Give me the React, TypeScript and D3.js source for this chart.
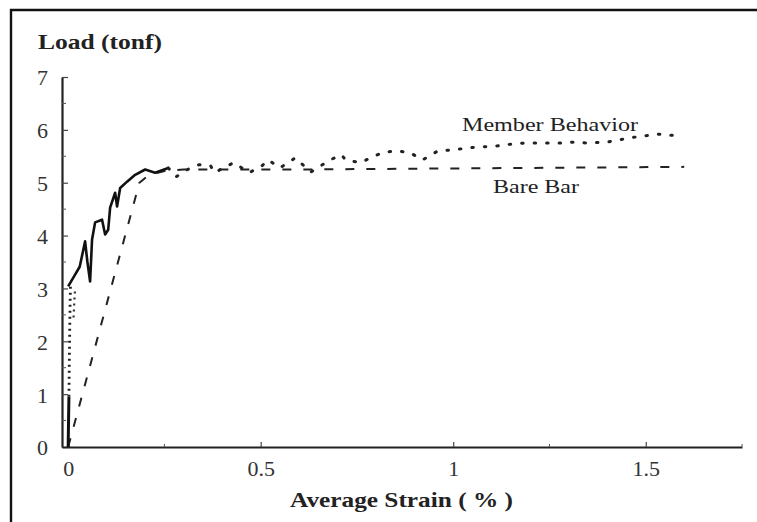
import { useEffect, useRef } from 'react';
import * as d3 from 'd3';

// Member behavior: initial near-vertical rise at zero strain
const memberBaseStrain = [0.0, 0.001, 0.002];
const memberBaseLoad = [0.0, 0.5, 0.95];
const memberDotStrain = [0.002, 0.003, 0.004, 0.005, 0.006];
const memberDotLoad = [0.95, 1.6, 2.2, 2.7, 3.04];
const memberDot2Strain = [0.014, 0.016, 0.018];
const memberDot2Load = [2.45, 2.75, 3.0];

// Member behavior: jagged hardening part (solid)
const memberRiseStrain = [0.0, 0.018, 0.03, 0.044, 0.05, 0.057, 0.062, 0.07, 0.088, 0.096, 0.104, 0.109, 0.122, 0.127, 0.135, 0.153, 0.174, 0.2, 0.226, 0.26];
const memberRiseLoad = [3.04, 3.26, 3.41, 3.89, 3.5, 3.13, 3.92, 4.25, 4.3, 4.02, 4.11, 4.53, 4.81, 4.55, 4.9, 5.02, 5.15, 5.25, 5.19, 5.28];

// Member behavior: plateau (dotted)
const memberFlatStrain = [0.26, 0.28, 0.31, 0.34, 0.37, 0.38, 0.43, 0.47, 0.5, 0.52, 0.55, 0.59, 0.63, 0.68, 0.71, 0.72, 0.76, 0.79, 0.82, 0.86, 0.89, 0.92, 0.96, 1.0, 1.04, 1.12, 1.16, 1.19, 1.23, 1.28, 1.3, 1.35, 1.4, 1.46, 1.53, 1.56, 1.59];
const memberFlatLoad = [5.28, 5.11, 5.25, 5.34, 5.32, 5.19, 5.38, 5.19, 5.3, 5.43, 5.28, 5.47, 5.2, 5.43, 5.53, 5.43, 5.38, 5.49, 5.58, 5.6, 5.56, 5.43, 5.6, 5.62, 5.66, 5.7, 5.74, 5.75, 5.75, 5.75, 5.77, 5.75, 5.77, 5.85, 5.92, 5.9, 5.9];

// Bare bar (dashed)
const bareStrain = [0.0, 0.185, 0.21, 0.25, 0.3, 0.6, 1.0, 1.6];
const bareLoad = [0.0, 5.0, 5.15, 5.22, 5.25, 5.25, 5.27, 5.3];

const yTicks = [0, 1, 2, 3, 4, 5, 6, 7];
const yMinorTicks = [0.5, 1.5, 2.5, 3.5, 4.5, 5.5, 6.5];
const xTicks = [0, 0.5, 1, 1.5];
const xTickLabels = ['0', '0.5', '1', '1.5'];
const xMinorTicks = [0.25, 1.25, 1.75];

const serif = '"Liberation Serif", "DejaVu Serif", serif';

const App = () => {
  const svgRef = useRef<SVGSVGElement>(null);

  useEffect(() => {
    const svg = d3.select(svgRef.current);
    svg.selectAll('*').remove();

    const x = d3.scaleLinear().domain([-0.016, 1.75]).range([62, 742]);
    const y = d3.scaleLinear().domain([0, 7]).range([447, 77]);

    // frame of the scanned figure (top and left edges only, the rest is cropped)
    svg.append('path')
      .attr('d', 'M11,530 L11,10 L760,10')
      .attr('fill', 'none').attr('stroke', '#111').attr('stroke-width', 2.4);

    // y axis
    const yAxis = svg.append('g')
      .attr('transform', `translate(${x(-0.016)},0)`)
      .call(d3.axisLeft(y).tickValues(yTicks).tickSize(-6).tickSizeOuter(0).tickFormat(d3.format('d')));
    yAxis.select('.domain').attr('stroke', '#222').attr('stroke-width', 2.2);
    yAxis.selectAll('.tick line').attr('stroke', '#444').attr('stroke-width', 1.2);
    yAxis.selectAll('.tick text')
      .attr('x', -14).attr('dy', '0.36em')
      .attr('font-family', serif).attr('font-size', 22).attr('fill', '#333');
    yAxis.append('g').selectAll('line')
      .data(yMinorTicks).enter().append('line')
      .attr('x1', 0).attr('x2', 4)
      .attr('y1', d => y(d)).attr('y2', d => y(d))
      .attr('stroke', '#555').attr('stroke-width', 1);

    // x axis
    const xAxis = svg.append('g')
      .attr('transform', `translate(0,${y(0)})`)
      .call(d3.axisBottom(x).tickValues(xTicks).tickSize(-5).tickSizeOuter(0)
        .tickFormat((d, i) => xTickLabels[i]));
    xAxis.select('.domain').attr('stroke', '#222').attr('stroke-width', 2.2);
    xAxis.selectAll('.tick line').attr('stroke', '#444').attr('stroke-width', 1.2);
    xAxis.selectAll('.tick text')
      .attr('y', 13).attr('dy', '0.71em')
      .attr('font-family', serif).attr('font-size', 22).attr('fill', '#333');
    xAxis.append('g').selectAll('line')
      .data(xMinorTicks).enter().append('line')
      .attr('x1', d => x(d)).attr('x2', d => x(d))
      .attr('y1', 0).attr('y2', -3)
      .attr('stroke', '#555').attr('stroke-width', 1);

    const line = (xs: number[], ys: number[]) =>
      d3.line<number>().x(d => x(xs[d])).y(d => y(ys[d]))(xs.map((_, i) => i)) || '';

    // bare bar
    svg.append('path')
      .attr('d', line(bareStrain, bareLoad))
      .attr('fill', 'none').attr('stroke', '#222').attr('stroke-width', 2)
      .attr('stroke-dasharray', '9,12');

    // member behavior
    svg.append('path')
      .attr('d', line(memberBaseStrain, memberBaseLoad))
      .attr('fill', 'none').attr('stroke', '#111').attr('stroke-width', 3);
    svg.append('path')
      .attr('d', line(memberDotStrain, memberDotLoad))
      .attr('fill', 'none').attr('stroke', '#222').attr('stroke-width', 2.8)
      .attr('stroke-dasharray', '2,4');
    svg.append('path')
      .attr('d', line(memberDot2Strain, memberDot2Load))
      .attr('fill', 'none').attr('stroke', '#333').attr('stroke-width', 2.2)
      .attr('stroke-dasharray', '2,4');
    svg.append('path')
      .attr('d', line(memberRiseStrain, memberRiseLoad))
      .attr('fill', 'none').attr('stroke', '#111').attr('stroke-width', 2.6)
      .attr('stroke-linejoin', 'round');
    svg.append('path')
      .attr('d', line(memberFlatStrain, memberFlatLoad))
      .attr('fill', 'none').attr('stroke', '#222').attr('stroke-width', 3)
      .attr('stroke-linecap', 'round')
      .attr('stroke-dasharray', '1.5,11');

    // titles
    svg.append('text')
      .attr('x', 38).attr('y', 49)
      .attr('font-family', serif).attr('font-size', 21).attr('font-weight', 'bold')
      .attr('fill', '#222').attr('textLength', 124).attr('lengthAdjust', 'spacingAndGlyphs')
      .text('Load (tonf)');
    svg.append('text')
      .attr('x', 290).attr('y', 507)
      .attr('font-family', serif).attr('font-size', 21).attr('font-weight', 'bold')
      .attr('fill', '#222').attr('textLength', 223).attr('lengthAdjust', 'spacingAndGlyphs')
      .text('Average Strain ( % )');

    // series labels
    svg.append('text')
      .attr('x', 462).attr('y', 131)
      .attr('font-family', serif).attr('font-size', 19)
      .attr('fill', '#222').attr('textLength', 176).attr('lengthAdjust', 'spacingAndGlyphs')
      .text('Member Behavior');
    svg.append('text')
      .attr('x', 493).attr('y', 193)
      .attr('font-family', serif).attr('font-size', 19)
      .attr('fill', '#222').attr('textLength', 86).attr('lengthAdjust', 'spacingAndGlyphs')
      .text('Bare Bar');
  }, []);

  return (
    <svg ref={svgRef} width={757} height={522}
      style={{ position: 'absolute', left: 0, top: 0, background: '#fff' }} />
  );
};

export default App;
